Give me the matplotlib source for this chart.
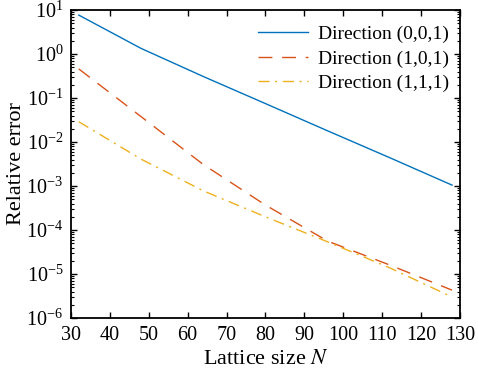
import matplotlib
matplotlib.use("Agg")
import matplotlib.pyplot as plt
from matplotlib.ticker import LogLocator, NullFormatter

plt.rcParams['font.family'] = ['Liberation Serif', 'DejaVu Serif']
plt.rcParams['mathtext.fontset'] = 'stix'

# lattice sizes and relative errors
lattice_n = [32, 48, 64, 80, 96, 112, 128]
err_001 = [7.7, 1.35, 0.31, 0.075, 0.018, 0.0044, 0.00105]
err_101 = [0.46, 0.038, 0.0031, 3.7e-4, 5.6e-5, 1.6e-5, 4.3e-6]
err_111 = [0.029, 0.0041, 7.8e-4, 2.0e-4, 5.4e-5, 1.38e-5, 3.0e-6]

labels = ["Direction (0,0,1)", "Direction (1,0,1)", "Direction (1,1,1)"]
colors = ["#0072BD", "#D95319", "#EDB120"]

fig = plt.figure(figsize=(4.78, 3.74), dpi=100)
ax = fig.add_axes([0.1485, 0.1497, 0.8135, 0.8233])

ax.plot(lattice_n, err_001, color=colors[0], lw=1.0, label=labels[0])
ax.plot(lattice_n, err_101, color=colors[1], lw=1.0, dashes=(10, 7), label=labels[1])
ax.plot(lattice_n, err_111, color=colors[2], lw=1.0, dashes=(8, 4, 1.5, 4), label=labels[2])

ax.set_yscale('log')
ax.set_xlim(30, 130)
ax.set_ylim(1e-6, 1e1)
ax.set_xticks(range(30, 131, 10))
ax.yaxis.set_major_locator(LogLocator(base=10, numticks=20))
ax.yaxis.set_minor_locator(LogLocator(base=10, subs=range(2, 10), numticks=20))
ax.yaxis.set_minor_formatter(NullFormatter())

ax.tick_params(which='both', direction='in', top=True, right=True, labelsize=14.5)
ax.tick_params(which='major', length=4, width=1)
ax.tick_params(which='minor', length=2.5, width=0.8)
ax.tick_params(axis='x', which='minor', top=False, bottom=False)
ax.tick_params(axis='x', which='major', pad=6)
ax.tick_params(axis='y', which='major', pad=5.5)
for sp in ax.spines.values():
    sp.set_linewidth(1.3)

ax.set_xlabel("Lattice size $N$", fontsize=16)
ax.set_ylabel("Relative error", fontsize=16)
ax.xaxis.set_label_coords(0.5, -0.136)
ax.yaxis.set_label_coords(-0.139, 0.5)
ax.xaxis.label.set_va('center')
ax.yaxis.label.set_va('center')

ax.legend(loc='upper right', bbox_to_anchor=(1.0, 0.985), frameon=False,
          fontsize=14, handlelength=2.6, handletextpad=0.5,
          labelspacing=0.35, borderaxespad=0.15)

fig.savefig("out.png", dpi=100)
